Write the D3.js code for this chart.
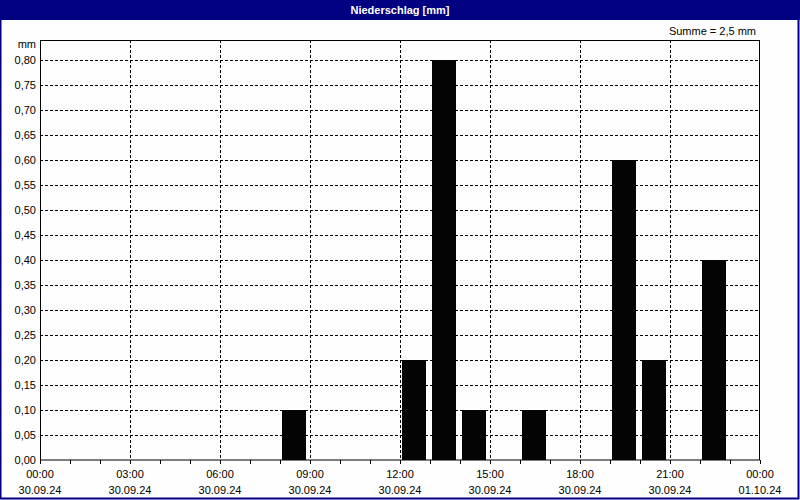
<!DOCTYPE html>
<html><head><meta charset="utf-8">
<script src="https://cdn.jsdelivr.net/npm/d3@7"></script>
<style>
html,body{margin:0;padding:0;background:#fff;}
svg{display:block;}
text{font-family:"Liberation Sans",Arial,sans-serif;}
</style></head>
<body>
<script>
const hours = [8, 12, 13, 14, 16, 19, 20, 22];
const values = [0.10, 0.20, 0.80, 0.10, 0.10, 0.60, 0.20, 0.40];
const yTicks = [0,0.05,0.10,0.15,0.20,0.25,0.30,0.35,0.40,0.45,0.50,0.55,0.60,0.65,0.70,0.75,0.80];
const xTickHours = [0,3,6,9,12,15,18,21,24];
const xTimeLabels = ["00:00","03:00","06:00","09:00","12:00","15:00","18:00","21:00","00:00"];
const xDateLabels = ["30.09.24","30.09.24","30.09.24","30.09.24","30.09.24","30.09.24","30.09.24","30.09.24","01.10.24"];
const title = "Niederschlag [mm]";
const sumLabel = "Summe = 2,5 mm";
const unit = "mm";

const W = 800, H = 500;
const svg = d3.select("body").append("svg").attr("width", W).attr("height", H);
const navy = "#000080";

svg.append("rect").attr("x",0).attr("y",0).attr("width",W).attr("height",H).attr("fill","#fdfefd");
svg.append("rect").attr("x",0.5).attr("y",0.5).attr("width",W-2).attr("height",H-2)
  .attr("fill","none").attr("stroke",navy).attr("stroke-width",2);
svg.append("rect").attr("x",0).attr("y",0).attr("width",W).attr("height",20).attr("fill",navy);
svg.append("text").attr("x",400).attr("y",14).attr("text-anchor","middle")
  .attr("fill","#fff").attr("font-weight","bold").attr("font-size","11px").text(title);

const x = d3.scaleLinear().domain([0,24]).range([40,760]);
const y = d3.scaleLinear().domain([0,0.84]).range([460,40]);

// grid
const g = svg.append("g");
g.selectAll(".hg").data(yTicks.filter(d=>d>0)).join("line")
  .attr("x1",40).attr("x2",760)
  .attr("y1",d=>Math.round(y(d))+0.5).attr("y2",d=>Math.round(y(d))+0.5)
  .attr("stroke","#000").attr("stroke-dasharray","3,2").attr("stroke-width",1);
g.selectAll(".vg").data(xTickHours.filter(d=>d>0&&d<24)).join("line")
  .attr("x1",d=>Math.round(x(d))+0.5).attr("x2",d=>Math.round(x(d))+0.5)
  .attr("y1",40).attr("y2",460)
  .attr("stroke","#000").attr("stroke-dasharray","3,2").attr("stroke-width",1);

// bars
svg.selectAll(".bar").data(hours.map((h,i)=>({h, v: values[i]}))).join("rect")
  .attr("x",d=>x(d.h)+2).attr("width",24)
  .attr("y",d=>Math.round(y(d.v))).attr("height",d=>460-Math.round(y(d.v)))
  .attr("fill","#040404");

// frame
svg.append("rect").attr("x",40.5).attr("y",40.5).attr("width",719).attr("height",419.5)
  .attr("fill","none").attr("stroke","#000").attr("stroke-width",1);

// y axis labels
svg.selectAll(".yl").data(yTicks).join("text")
  .attr("x",36).attr("y",d=>y(d)+4).attr("text-anchor","end")
  .attr("font-size","11px").attr("fill","#000")
  .text(d=>d3.format(".2f")(d).replace(".",","));
svg.append("text").attr("x",36).attr("y",48).attr("text-anchor","end")
  .attr("font-size","11px").attr("fill","#000").text(unit);

// x ticks (hourly)
svg.selectAll(".xt").data(d3.range(0,25)).join("line")
  .attr("x1",d=>Math.round(x(d))+0.5).attr("x2",d=>Math.round(x(d))+0.5)
  .attr("y1",460).attr("y2",464).attr("stroke","#000");

svg.selectAll(".xl").data(xTickHours).join("text")
  .attr("x",d=>x(d)).attr("y",478).attr("text-anchor","middle")
  .attr("font-size","11px").attr("fill","#000").text((d,i)=>xTimeLabels[i]);
svg.selectAll(".xd").data(xTickHours).join("text")
  .attr("x",d=>x(d)).attr("y",494).attr("text-anchor","middle")
  .attr("font-size","11px").attr("fill","#000").text((d,i)=>xDateLabels[i]);

svg.append("text").attr("x",756).attr("y",35).attr("text-anchor","end")
  .attr("font-size","11px").attr("fill","#000").text(sumLabel);
</script>
</body></html>
